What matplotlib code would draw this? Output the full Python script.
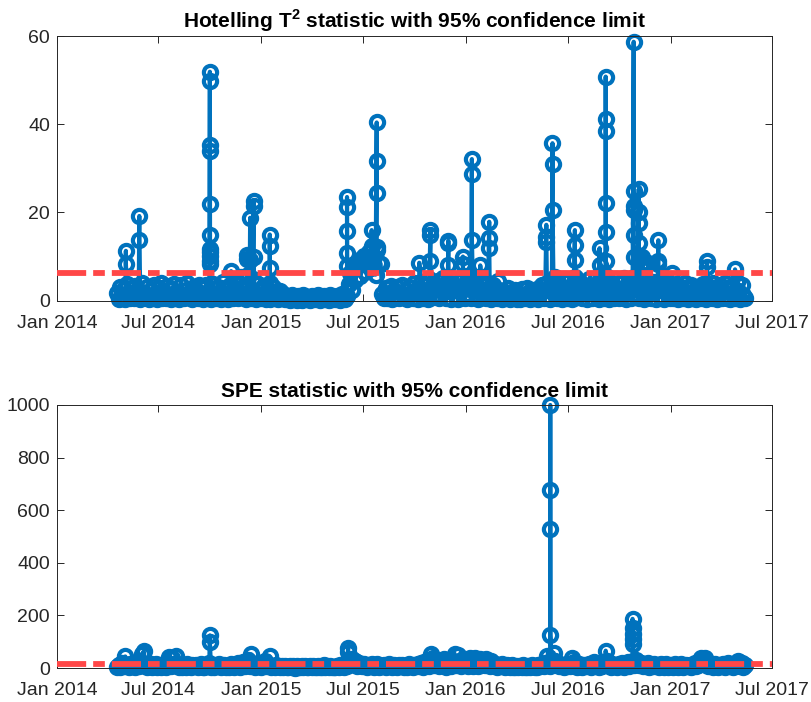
import matplotlib
matplotlib.use("Agg")
import matplotlib.pyplot as plt
import matplotlib.dates as mdates
import numpy as np
import pandas as pd

plt.rcParams["font.family"] = ["Liberation Sans", "DejaVu Sans"]
plt.rcParams["mathtext.fontset"] = "custom"
plt.rcParams["mathtext.rm"] = "Liberation Sans"
plt.rcParams["mathtext.bf"] = "Liberation Sans:bold"

# -----------------------------
# Data: readings every 3 days from start_date (one row ~ 30 days)
# -----------------------------
start_date = "2014-04-18"
step = "3D"

t2_base = [
    1.8, 0.3, 3.2, 0.9, 2.6, 0.4, 3.7, 1.5, 0.6, 2.9,
    0.5, 3.4, 1.1, 2.2, 0.3, 3.9, 1.7, 0.8, 3.1, 0.4,
    2.5, 0.6, 3.6, 1.3, 0.3, 2.8, 4.0, 0.7, 2.0, 0.5,
    3.3, 1.0, 0.4, 2.7, 3.8, 0.6, 1.9, 0.3, 3.5, 1.2,
    0.5, 2.4, 3.9, 0.8, 1.6, 0.3, 3.0, 2.1, 0.6, 3.6,
    1.4, 0.4, 2.8, 3.5, 0.7, 2.2, 0.3, 3.8, 1.1, 0.5,
    3.1, 1.8, 0.4, 4.2, 0.9, 2.6, 0.3, 3.4, 1.5, 0.6,
    4.6, 1.2, 0.5, 3.8, 5.3, 0.8, 2.9, 0.4, 5.8, 2.0,
    0.6, 4.9, 1.4, 0.3, 3.7, 2.5, 0.5, 3.1, 0.9, 0.3,
    2.6, 0.4, 1.8, 3.0, 0.5, 1.2, 0.3, 2.1, 0.7, 1.5,
    0.3, 1.1, 0.6, 0.2, 1.3, 0.4, 0.9, 0.2, 1.0, 0.5,
    0.2, 1.2, 0.7, 0.3, 0.9, 0.2, 1.1, 0.5, 0.3, 0.8,
    1.3, 0.2, 0.6, 1.0, 0.3, 0.8, 0.2, 1.2, 0.4, 0.7,
    0.3, 1.1, 0.5, 0.2, 1.4, 0.6, 0.3, 1.0, 3.8, 6.2,
    2.4, 8.1, 4.6, 7.9, 9.3, 5.7, 8.2, 10.1, 6.4, 9.8,
    11.0, 7.5, 10.2, 9.8, 5.9, 12.1, 8.6, 8.4, 1.6, 0.5,
    2.9, 0.6, 1.8, 3.4, 0.4, 2.2, 1.1, 3.0, 0.5, 1.7,
    3.6, 0.8, 2.5, 0.3, 3.1, 1.4, 0.6, 3.9, 2.0, 0.4,
    2.7, 4.3, 0.7, 3.5, 1.6, 0.4, 4.8, 2.3, 0.8, 3.9,
    1.2, 4.5, 0.5, 3.3, 5.1, 1.9, 0.6, 4.2, 2.8, 0.4,
    3.7, 5.0, 1.0, 0.3, 4.4, 2.2, 5.6, 0.7, 3.1, 1.5,
    4.7, 0.5, 2.6, 5.2, 1.3, 0.4, 3.9, 4.8, 0.8, 2.4,
    0.6, 4.1, 1.7, 0.3, 3.6, 2.9, 0.5, 4.4, 1.2, 0.4,
    2.3, 0.6, 1.5, 2.8, 0.3, 1.9, 0.8, 2.5, 0.4, 1.3,
    0.3, 2.6, 1.0, 0.5, 2.9, 1.7, 0.3, 2.2, 0.7, 1.4,
    2.7, 0.4, 1.8, 3.5, 0.6, 2.4, 4.1, 0.9, 0.3, 4.6,
    2.0, 5.3, 0.7, 3.8, 1.4, 0.4, 5.0, 2.9, 0.6, 4.5,
    1.1, 0.3, 3.7, 5.4, 0.8, 2.5, 4.3, 0.5, 1.9, 3.2,
    0.4, 4.9, 2.1, 0.6, 3.6, 5.2, 1.3, 0.3, 4.4, 2.7,
    0.7, 5.5, 3.0, 0.4, 4.1, 1.8, 0.5, 4.8, 2.3, 0.6,
    3.9, 1.2, 5.1, 0.4, 2.8, 4.6, 0.7, 1.6, 5.4, 0.9,
    3.4, 0.5, 4.7, 2.0, 0.3, 5.0, 1.5, 3.7, 0.6, 4.2,
    1.9, 0.4, 3.6, 4.5, 0.8, 2.6, 0.3, 3.9, 1.2, 0.5,
    3.3, 0.6, 2.4, 3.8, 0.4, 1.7, 3.0, 0.7, 4.0, 1.1,
    0.3, 2.9, 3.5, 0.6, 1.8, 0.4, 3.2, 2.2, 0.5, 3.7,
    1.4, 0.3, 3.4, 2.5, 0.6, 4.1, 1.0, 0.4, 2.8, 3.6,
    0.5, 1.9, 3.9, 0.7, 2.6, 0.3, 3.3, 1.5, 0.6, 4.2,
    2.3, 0.4, 3.5, 1.2, 0.5,
]

spe_base = [
    5, 12, 2, 18, 7, 44, 9, 3, 14, 6,
    10, 3, 15, 6, 21, 55, 63, 12, 4, 9,
    14, 3, 8, 17, 5, 11, 2, 13, 7, 4,
    12, 42, 6, 38, 10, 46, 15, 3, 9, 5,
    11, 2, 16, 7, 4, 13, 6, 10, 3, 8,
    14, 5, 2, 11, 7, 18, 4, 9, 3, 12,
    6, 15, 3, 9, 13, 4, 8, 2, 16, 7,
    3, 12, 18, 5, 9, 24, 6, 14, 30, 8,
    52, 11, 4, 17, 7, 13, 3, 10, 28, 6,
    12, 44, 5, 9, 3, 11, 6, 2, 8, 4,
    7, 2, 5, 9, 3, 6, 1, 8, 4, 2,
    6, 3, 8, 2, 5, 9, 3, 7, 2, 4,
    8, 2, 5, 10, 3, 6, 2, 9, 4, 3,
    5, 9, 3, 12, 6, 4, 15, 8, 21, 30,
    36, 14, 28, 9, 19, 12, 6, 16, 10, 4,
    13, 7, 17, 5, 11, 15, 3, 9, 6, 12,
    4, 10, 14, 6, 2, 12, 8, 3, 11, 7,
    13, 5, 9, 3, 15, 7, 2, 11, 6, 14,
    9, 18, 5, 22, 13, 30, 8, 52, 40, 12,
    16, 31, 7, 24, 11, 33, 5, 19, 27, 9,
    18, 55, 12, 48, 20, 8, 35, 14, 30, 6,
    38, 15, 9, 40, 22, 6, 36, 13, 28, 10,
    35, 20, 7, 26, 11, 17, 4, 12, 8, 15,
    9, 4, 12, 6, 2, 10, 5, 3, 8, 4,
    7, 2, 11, 5, 3, 9, 4, 13, 6, 2,
    4, 10, 6, 14, 8, 20, 45, 12, 9, 18,
    58, 27, 14, 6, 17, 9, 3, 12, 7, 15,
    8, 40, 21, 9, 5, 15, 11, 3, 13, 6,
    11, 17, 4, 9, 22, 6, 13, 3, 19, 8,
    14, 66, 28, 10, 5, 16, 7, 12, 3, 14,
    9, 18, 4, 12, 22, 7, 15, 26, 10, 30,
    24, 12, 18, 6, 14, 9, 19, 3, 11, 8,
    16, 6, 13, 3, 17, 10, 5, 14, 2, 9,
    12, 5, 16, 7, 3, 11, 15, 4, 9, 13,
    7, 13, 4, 9, 19, 6, 11, 22, 40, 16,
    38, 27, 9, 12, 17, 5, 14, 8, 3, 11,
    6, 16, 4, 11, 20, 7, 13, 3, 9, 15,
    26, 8, 18, 5, 12,
]

# short excursions: consecutive hourly readings on one day
t2_spike_dates = [
    "2014-05-04", "2014-05-28", "2014-10-01", "2014-11-08", "2014-12-06",
    "2014-12-12", "2014-12-18", "2015-01-16", "2015-06-03", "2015-07-17",
    "2015-07-26", "2015-10-10", "2015-10-30", "2015-12-01", "2015-12-27",
    "2016-01-12", "2016-01-27", "2016-02-12", "2016-05-24", "2016-06-04",
    "2016-07-14", "2016-08-27", "2016-09-07", "2016-10-27", "2016-11-05",
    "2016-11-11", "2016-11-22", "2016-12-10", "2017-01-03", "2017-03-07",
    "2017-04-26",
]
t2_spike_values = [
    [11.3, 8.3], [19.2, 13.8],
    [51.9, 49.8, 35.3, 33.9, 22.0, 14.9, 11.8, 11.0, 10.2, 9.0, 8.2],
    [6.7], [9.5, 10.4], [18.8, 9.2], [22.5, 21.4, 10.0],
    [15.0, 12.4, 7.4, 4.0], [23.5, 21.2, 15.7, 10.8, 7.9], [16.0, 12.5],
    [40.4, 31.7, 24.3, 11.4], [8.6], [16.0, 15.0, 8.9], [13.6, 13.0, 8.0],
    [10.0, 8.2], [32.1, 28.7, 13.8], [8.0], [17.9, 14.1, 11.9],
    [17.2, 14.5, 13.4], [35.7, 30.9, 20.6], [16.0, 12.6, 9.2], [11.9, 8.0],
    [50.8, 41.1, 38.5, 22.1, 15.5, 9.0],
    [58.7, 24.8, 21.5, 20.5, 15.0, 10.0], [25.3, 20.0, 17.6, 13.0, 9.5],
    [9.8, 8.0], [8.6], [13.7, 9.0, 8.2], [6.3], [8.9, 7.7], [7.1],
]

spe_spike_dates = ["2014-10-01", "2015-06-05", "2016-05-31", "2016-10-25"]
spe_spike_values = [
    [124, 100], [78, 62], [1000, 676, 527, 125], [187, 152, 128, 110, 90],
]

t2_limit = 6.3
spe_limit = 17.0


def build_series(base, spike_dates, spike_values):
    times = list(pd.date_range(start_date, periods=len(base), freq=step))
    vals = list(base)
    for d, group in zip(spike_dates, spike_values):
        d0 = pd.Timestamp(d)
        for k, v in enumerate(group):
            times.append(d0 + pd.Timedelta(hours=k))
            vals.append(v)
    times = np.array(times, dtype="datetime64[ns]")
    vals = np.array(vals, dtype=float)
    order = np.argsort(times, kind="stable")
    return times[order], vals[order]


t2_t, t2_v = build_series(t2_base, t2_spike_dates, t2_spike_values)
spe_t, spe_v = build_series(spe_base, spe_spike_dates, spe_spike_values)

# -----------------------------
# Figure
# -----------------------------
fig = plt.figure(figsize=(8.12, 7.02), dpi=100, facecolor="white")
ax1 = fig.add_axes([0.0702, 0.5717, 0.8805, 0.3770])
ax2 = fig.add_axes([0.0702, 0.0484, 0.8805, 0.3747])

blue = "#0072BD"
red = "#ff4747"
axcol = "#262626"

panels = [
    (ax1, t2_t, t2_v, t2_limit, (0, 60), [0, 20, 40, 60],
     "Hotelling T$^{\\mathbf{2}}$ statistic with 95% confidence limit"),
    (ax2, spe_t, spe_v, spe_limit, (0, 1000), [0, 200, 400, 600, 800, 1000],
     "SPE statistic with 95% confidence limit"),
]

for ax, t, v, lim, ylim, yticks, title in panels:
    ax.plot(t, v, "-o", color=blue, lw=3.0, ms=9.5, mew=3.0, mfc="none",
            clip_on=False, zorder=2)
    ax.axhline(lim, color=red, lw=4.2, linestyle=(0, (5, 1.2, 2, 1.2)), zorder=3)

    ax.set_xlim(pd.Timestamp("2014-01-01"), pd.Timestamp("2017-07-01"))
    ax.set_ylim(*ylim)
    ax.set_yticks(yticks)
    ax.xaxis.set_major_locator(mdates.MonthLocator(bymonth=[1, 7]))
    ax.xaxis.set_major_formatter(mdates.DateFormatter("%b %Y"))

    ax.set_title(title, fontsize=15, fontweight="bold", color="black", pad=6)

    for side in ["top", "right", "bottom", "left"]:
        ax.spines[side].set_linewidth(0.7)
        ax.spines[side].set_color(axcol)
    ax.tick_params(direction="in", top=True, right=True, length=5, width=0.7,
                   colors=axcol, labelsize=14)
    ax.tick_params(axis="x", pad=10)
    ax.tick_params(axis="y", pad=5)

fig.savefig("out.png", dpi=100, facecolor="white")
